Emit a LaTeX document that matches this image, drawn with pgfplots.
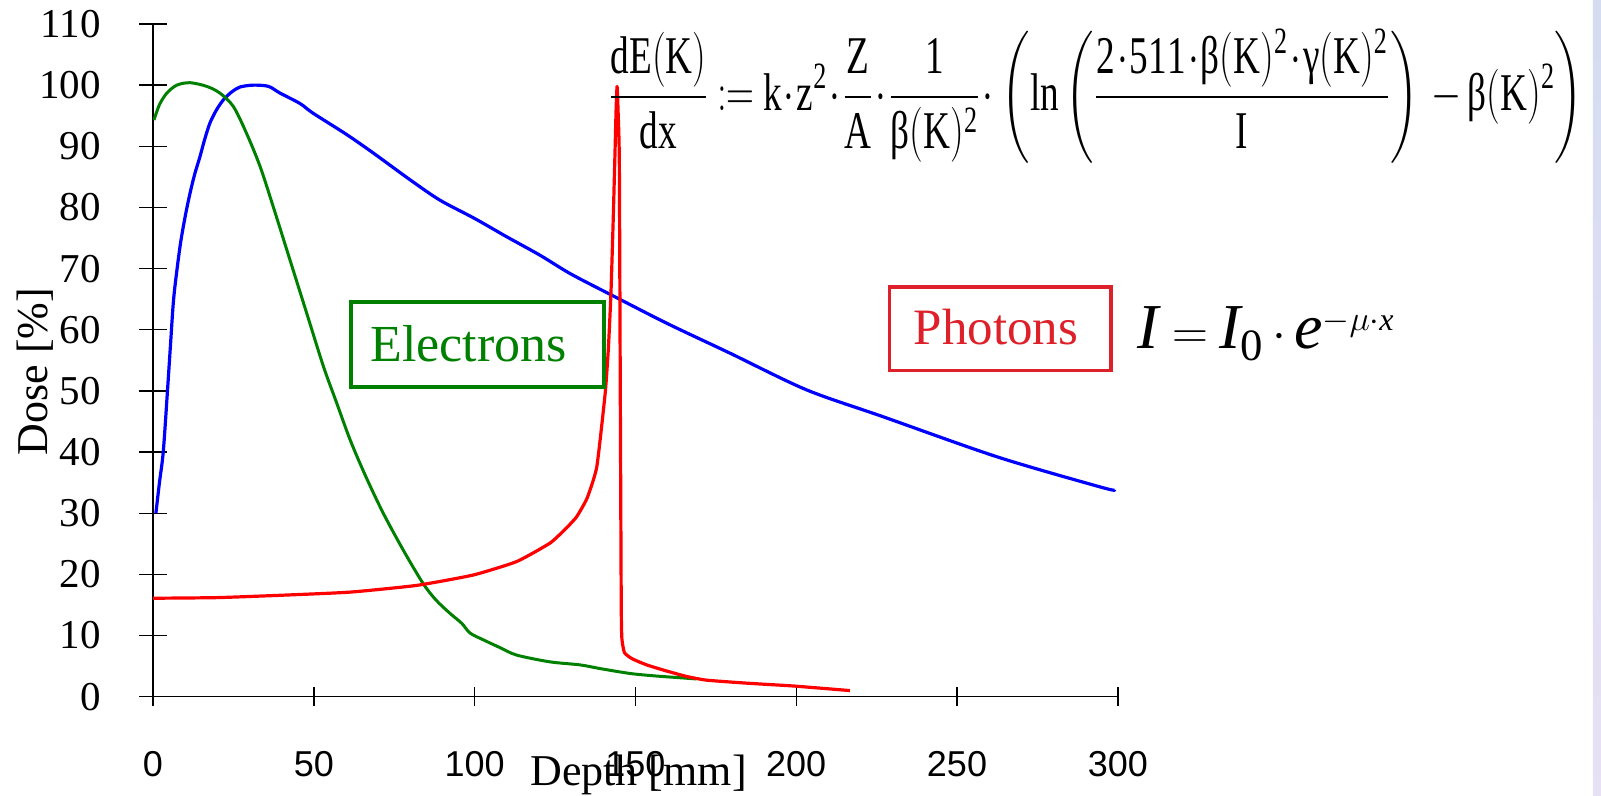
\documentclass[border=0pt]{standalone}
\usepackage{fontspec}
\setmainfont{Liberation Serif}
\newfontfamily\sansf{Liberation Sans}
\usepackage{amsmath}
\usepackage{graphicx}
\usepackage{pgfplots}
\pgfplotsset{compat=1.18}
\definecolor{egreen}{RGB}{0,128,0}
\definecolor{pred}{RGB}{222,32,42}
\definecolor{bandtop}{RGB}{212,220,242}
\definecolor{bandbot}{RGB}{232,224,244}
\newcommand\R[1]{\mathrm{#1}}
\newcommand\gk[1]{\text{#1}}
\newcommand\cd{\mkern1mu\mathord{\cdot}\mkern1mu}
\begin{document}
\begin{tikzpicture}
\useasboundingbox (0,0) rectangle (800.5pt,398pt);
\shade[top color=bandtop,bottom color=bandbot] (796.4pt,0) rectangle (800.5pt,398pt);
\begin{axis}[
  at={(76.5pt,49.65pt)}, anchor=south west,
  width=482.4pt, height=336.35pt, scale only axis,
  xmin=0, xmax=300, ymin=0, ymax=110,
  axis x line=bottom, axis y line=left,
  axis line style={-, line width=0.7pt, black},
  xtick={0,50,...,300}, ytick={0,10,...,110},
  tick align=center, major tick length=14pt,
  tick style={black, line width=0.7pt},
  xtick style={/pgfplots/major tick length=9.5pt},
  /pgf/number format/assume math mode=true,
  xticklabel style={font=\sansf\fontsize{18}{18}\selectfont, anchor=north, inner sep=0pt, yshift=-20.3pt},
  yticklabel style={font=\fontsize{20.5}{20.5}\selectfont, anchor=east, inner sep=0pt, xshift=-19pt},
  xlabel={Depth [mm]}, ylabel={Dose [\%]},
  label style={font=\fontsize{22}{22}\selectfont},
  xlabel style={at={(axis description cs:0.5033,-0.1327)}, anchor=base},
  ylabel style={at={(axis description cs:-0.1223,0.4836)}, anchor=center},
]
\addplot[blue, line width=1.6pt, line join=round, smooth, tension=0.5] coordinates {
(0.9,30) (2.0,35) (3.2,40.1) (4.5,50) (5.5,58) (6.5,65.5) (8.4,73.6) (10,78.5)
(11.5,82.3) (13,85.5) (14.6,88.3) (16,91) (17.7,93.8) (19.8,96) (21.9,97.6)
(24.5,98.9) (27.1,99.7) (31.2,100) (35.9,99.8) (39.5,98.7) (45.7,97.0) (49.8,95.4)
(60,92) (68.5,88.9) (80,84.5) (89.2,81.2) (100,78.2) (110,75.2) (120.3,72.2)
(130,69.1) (143.6,65.4) (160,61.0) (179.3,56.2) (203.1,50.2) (226.9,45.8)
(262.6,39.2) (294.5,34.3) (299,33.8)};
\addplot[egreen, line width=1.5pt, line join=round, smooth, tension=0.5] coordinates {
(0.3,94.3) (2,96.8) (4.3,98.7) (7.4,100.0) (11.5,100.4) (16.7,99.8) (20.8,98.7)
(25,96.5) (29.1,92.1) (33.3,86.7) (37.4,80.1) (42.6,71.4) (47.8,62.7) (53,54)
(57,48.2) (61.3,42) (66,36.2) (71.6,30) (78,23.8) (84,18.5) (88,15.8) (92.4,13.6)
(96,12) (98.6,10.4) (102.7,9.3) (108,8) (113.1,6.8) (123.4,5.7) (132.8,5.2)
(139,4.6) (148.3,3.8) (156,3.4) (163.9,3.1) (169,2.9)};
\addplot[red, line width=1.6pt, line join=round, smooth, tension=0.3] coordinates {
(0,16.1) (20,16.2) (40.5,16.6) (61.3,17.1) (82,18.2) (99.6,19.9) (113.1,22.1)
(123.4,25.1) (128,27.3) (131.7,29.4) (135,32.5) (138,37.6) (140.6,49.6)
(141.6,57) (142.4,66) (143.1,78) (143.6,87.8) (144.0,96) (144.3,99.8)
(144.6,96) (145.0,87.8) (145.3,50) (145.6,15) (145.8,9.5) (146.6,7.2)
(149,6.2) (153.5,5.2) (159.7,4.2) (166,3.3) (172.2,2.7) (185,2.2)
(199.1,1.75) (216.7,1.0)};
\end{axis}
\draw[egreen, line width=2pt] (175.5pt,204.25pt) rectangle (302pt,247pt);
\node[anchor=base west, inner sep=0pt, text=egreen, font=\fontsize{26}{26}\selectfont] at (185pt,217.15pt) {Electrons};
\draw[pred, line width=1.7pt] (444.75pt,212.75pt) rectangle (555.5pt,254.5pt);
\node[anchor=base west, inner sep=0pt, text=pred, font=\fontsize{25.5}{25.5}\selectfont] at (456.65pt,225.5pt) {Photons};
\node[anchor=base west, inner sep=0pt, font=\fontsize{32}{32}\selectfont] at (568.35pt,223.85pt)
  {$\mathit{I}\mkern5mu{=}\mkern4mu\mathit{I}_{\mathrm{0}}\mkern3mu{\cdot}\mkern3mu\mathit{e}^{\scriptscriptstyle -\mu\cdot \mathit{x}}$};
\node[anchor=north west, inner sep=0pt, font=\fontsize{20}{20}\selectfont] at (304pt,383.7pt)
  {\resizebox*{487.5pt}{67pt}{$\displaystyle
  \frac{\R{dE(K)}}{\R{dx}} \mkern4mu{:=}\mkern4mu \R{k}\cd\R{z}^{\R{2}}\cd\frac{\R{Z}}{\R{A}}\cd
  \frac{\R{1}}{\gk{β}(\R{K})^{\R{2}}}\cd
  \left(\R{ln}\left(\frac{\R{2}\cd\R{511}\cd\gk{β}(\R{K})^{\R{2}}\cd\gk{γ}(\R{K})^{\R{2}}}{\R{I}}\right)
  \mkern3mu{-}\mkern3mu \gk{β}(\R{K})^{\R{2}}\right)$}};
\end{tikzpicture}
\end{document}
